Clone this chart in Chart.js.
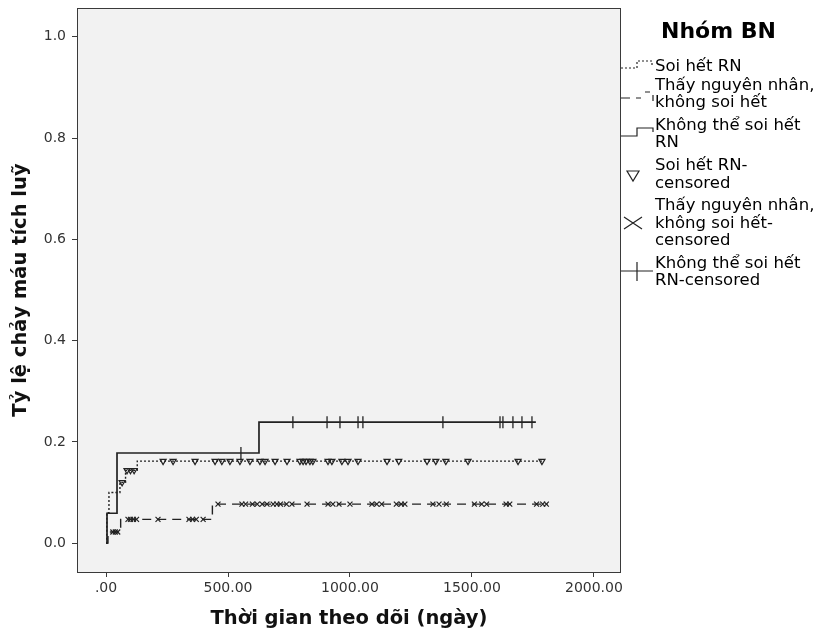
<!DOCTYPE html>
<html>
<head>
<meta charset="utf-8">
<script src="https://cdn.jsdelivr.net/npm/chart.js@4.4.0/dist/chart.umd.min.js"></script>
<style>
  body { margin: 0; background: #fff; }
  #wrap { width: 817px; height: 634px; }
</style>
</head>
<body>
<div id="wrap"><canvas id="kmPlot" width="817" height="634"></canvas></div>
<script>
// Cumulative bleeding rate by group (Kaplan-Meier style steps)
// times in days, rates 0..1

// Soi hết RN (dotted)
const soiHetTimes = [0, 3, 12, 57, 80, 128, 1790];
const soiHetRate = [0, 0.06, 0.10, 0.12, 0.144, 0.162, 0.162];
const soiHetCensored = [66, 86, 100, 115, 234, 275, 365, 447, 475, 508, 549, 590, 631, 652, 693, 742,
    795, 808, 820, 836, 848, 910, 926, 967, 992, 1033, 1152, 1200, 1316, 1352, 1393, 1484, 1689, 1787];

// Thấy nguyên nhân, không soi hết (dashed)
const thayTimes = [0, 8, 60, 436, 1811];
const thayRate = [0, 0.022, 0.047, 0.077, 0.077];
const thayCensored = [28, 38, 48, 90, 100, 112, 125, 213, 340, 355, 370, 398, 459, 557, 572, 600, 620,
    640, 660, 685, 700, 715, 740, 762, 824, 910, 930, 955, 1000, 1090, 1110, 1130, 1190, 1210, 1225,
    1340, 1365, 1395, 1510, 1540, 1560, 1640, 1655, 1765, 1790, 1805];

// Không thể soi hết RN (solid)
const khongTheTimes = [0, 4, 45, 627, 1762];
const khongTheRate = [0, 0.059, 0.178, 0.239, 0.239];
const khongTheCensored = [553, 766, 906, 959, 1033, 1053, 1381, 1615, 1627, 1668, 1705, 1746];

const xTicks = [0, 500, 1000, 1500, 2000];
const yTicks = [0, 0.2, 0.4, 0.6, 0.8, 1.0];

const ink = '#222';

function toPoints(times, rates) {
    return times.map((t, i) => ({ x: t, y: rates[i] }));
}
// value of the step curve at a censoring time
function rateAt(times, rates, t) {
    let r = rates[0];
    for (let i = 0; i < times.length; i++) {
        if (times[i] <= t) r = rates[i];
    }
    return r;
}
function censorPoints(censored, times, rates) {
    return censored.map(t => ({ x: t, y: rateAt(times, rates, t) }));
}

const stepLine = {
    type: 'line',
    stepped: true,
    borderColor: ink,
    pointRadius: 0,
    fill: false
};
const marks = {
    type: 'scatter',
    borderColor: ink,
    backgroundColor: 'rgba(0,0,0,0)',
    borderWidth: 1.2
};

const plotBox = {
    id: 'plotBox',
    beforeDraw(chart) {
        const { ctx, chartArea: a } = chart;
        ctx.save();
        ctx.fillStyle = '#f2f2f2';
        ctx.fillRect(a.left, a.top, a.right - a.left, a.bottom - a.top);
        ctx.restore();
    },
    afterDraw(chart) {
        const { ctx, chartArea: a } = chart;
        ctx.save();
        ctx.strokeStyle = '#3a3a3a';
        ctx.lineWidth = 1;
        ctx.strokeRect(a.left + 0.5, a.top + 0.5, a.right - a.left - 1, a.bottom - a.top);
        ctx.restore();
    }
};

// legend drawn to the right of the plot, like the SPSS output
const sideLegend = {
    id: 'sideLegend',
    afterDraw(chart) {
        const ctx = chart.ctx;
        const x0 = chart.chartArea.right;
        ctx.save();
        ctx.fillStyle = '#000';
        ctx.textBaseline = 'middle';
        ctx.font = 'bold 22px "DejaVu Sans"';
        ctx.fillText('Nhóm BN', 661, 32);

        ctx.font = '16.5px "DejaVu Sans"';
        const lines = [
            ['Soi hết RN', 67],
            ['Thấy nguyên nhân,', 86], ['không soi hết', 103],
            ['Không thể soi hết', 126], ['RN', 143],
            ['Soi hết RN-', 166], ['censored', 184],
            ['Thấy nguyên nhân,', 206], ['không soi hết-', 224], ['censored', 241],
            ['Không thể soi hết', 264], ['RN-censored', 281]
        ];
        lines.forEach(([t, y]) => ctx.fillText(t, 655, y));

        ctx.strokeStyle = ink;
        ctx.lineWidth = 1.2;
        // dotted sample
        ctx.setLineDash([2, 2]);
        ctx.beginPath();
        ctx.moveTo(x0, 68); ctx.lineTo(x0 + 16, 68); ctx.lineTo(x0 + 16, 61);
        ctx.lineTo(x0 + 31, 61); ctx.lineTo(x0 + 31, 67);
        ctx.stroke();
        // dashed sample
        ctx.setLineDash([9, 6]);
        ctx.beginPath();
        ctx.moveTo(x0, 98); ctx.lineTo(x0 + 20, 98);
        ctx.stroke();
        ctx.setLineDash([]);
        ctx.beginPath();
        ctx.moveTo(x0 + 24, 92); ctx.lineTo(x0 + 29, 92);
        ctx.moveTo(x0 + 32, 95); ctx.lineTo(x0 + 32, 101);
        ctx.stroke();
        // solid sample
        ctx.beginPath();
        ctx.moveTo(x0, 136); ctx.lineTo(x0 + 16, 136); ctx.lineTo(x0 + 16, 128);
        ctx.lineTo(x0 + 32, 128); ctx.lineTo(x0 + 32, 132);
        ctx.stroke();
        // triangle
        ctx.beginPath();
        ctx.moveTo(x0 + 6, 171); ctx.lineTo(x0 + 18, 171); ctx.lineTo(x0 + 12, 181); ctx.closePath();
        ctx.stroke();
        // X
        ctx.beginPath();
        ctx.moveTo(x0 + 3, 217); ctx.lineTo(x0 + 21, 229);
        ctx.moveTo(x0 + 3, 229); ctx.lineTo(x0 + 21, 217);
        ctx.stroke();
        // plus on a line
        ctx.beginPath();
        ctx.moveTo(x0, 271); ctx.lineTo(x0 + 32, 271);
        ctx.moveTo(x0 + 16, 262); ctx.lineTo(x0 + 16, 281);
        ctx.stroke();
        ctx.restore();
    }
};

const tickFont = { family: 'DejaVu Sans', size: 14 };
const titleFont = { family: 'DejaVu Sans', size: 19.5, weight: 'bold' };

new Chart(document.getElementById('kmPlot').getContext('2d'), {
    data: {
        datasets: [
            { ...stepLine, label: 'Soi hết RN', data: toPoints(soiHetTimes, soiHetRate), borderWidth: 1.4, borderDash: [2, 2] },
            { ...stepLine, label: 'Thấy nguyên nhân, không soi hết', data: toPoints(thayTimes, thayRate), borderWidth: 1.4, borderDash: [9, 6] },
            { ...stepLine, label: 'Không thể soi hết RN', data: toPoints(khongTheTimes, khongTheRate), borderWidth: 1.7 },
            { ...marks, label: 'Soi hết RN-censored', data: censorPoints(soiHetCensored, soiHetTimes, soiHetRate),
                pointStyle: 'triangle', pointRotation: 180, pointRadius: 3.5 },
            { ...marks, label: 'Thấy nguyên nhân, không soi hết-censored', data: censorPoints(thayCensored, thayTimes, thayRate),
                pointStyle: 'crossRot', pointRadius: 3.5 },
            { ...marks, label: 'Không thể soi hết RN-censored', data: censorPoints(khongTheCensored, khongTheTimes, khongTheRate),
                pointStyle: 'line', pointRotation: 90, pointRadius: 6, borderWidth: 1.3 }
        ]
    },
    options: {
        responsive: false,
        animation: false,
        layout: { padding: { top: 8, right: 196, left: 0, bottom: 0 } },
        scales: {
            x: {
                type: 'linear',
                min: -119,
                max: 2111,
                afterFit: s => { s.height = 62; s.paddingLeft = 0; s.paddingRight = 0; },
                afterBuildTicks: s => { s.ticks = xTicks.map(v => ({ value: v })); },
                ticks: {
                    font: tickFont, color: '#333', padding: 3, maxRotation: 0,
                    callback: v => (v === 0 ? '.00' : v.toFixed(2))
                },
                grid: { drawOnChartArea: false, drawTicks: true, tickLength: 5, color: '#3a3a3a' },
                border: { display: false },
                title: { display: true, text: 'Thời gian theo dõi (ngày)', font: titleFont, color: '#111', padding: { top: 4, bottom: 3 } }
            },
            y: {
                type: 'linear',
                min: -0.057,
                max: 1.057,
                afterFit: s => { s.width = 77; s.paddingTop = 0; s.paddingBottom = 0; },
                afterBuildTicks: s => { s.ticks = yTicks.map(v => ({ value: v })); },
                ticks: {
                    font: tickFont, color: '#333', padding: 6,
                    callback: v => v.toFixed(1)
                },
                grid: { drawOnChartArea: false, drawTicks: true, tickLength: 5, color: '#3a3a3a' },
                border: { display: false },
                title: { display: true, text: 'Tỷ lệ chảy máu tích luỹ', font: titleFont, color: '#111', padding: { top: 9, bottom: 4 } }
            }
        },
        plugins: {
            legend: { display: false },
            tooltip: { enabled: false }
        }
    },
    plugins: [plotBox, sideLegend]
});
</script>
</body>
</html>
